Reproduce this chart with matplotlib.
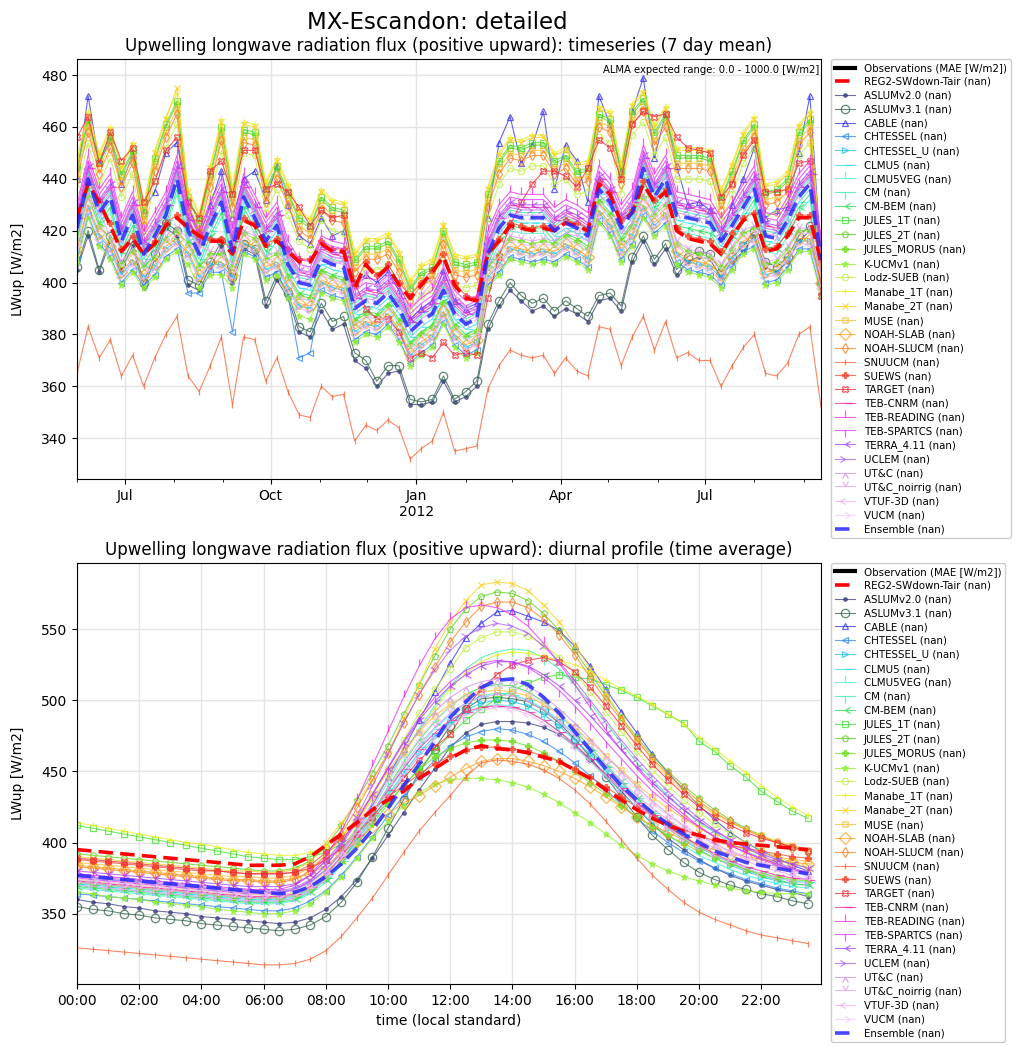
import numpy as np
import pandas as pd
import matplotlib
matplotlib.use('Agg')
import matplotlib.pyplot as plt
import matplotlib.dates as mdates

# weekly (7 day mean) timeseries, 68 points from 2011-06-01
week_start = '2011-06-01'
n_weeks = 68
# diurnal profile, half hourly 00:00 .. 23:30
hours = np.arange(0, 24, 0.5)

# ---- timeseries values [W/m2] ----
ts_reg2 = [425, 438, 431, 422, 412, 417, 411, 415, 422, 425, 421, 418, 416, 416, 411, 424, 422,
           414, 416, 412, 408, 408, 415, 412, 412, 398, 407, 402, 406, 399, 394, 399, 404, 410,
           399, 394, 393, 411, 416, 422, 421, 420, 421, 420, 423, 422, 420, 438, 434, 423, 427,
           438, 431, 435, 420, 417, 416, 415, 411, 418, 424, 426, 412, 413, 418, 425, 425, 408]
ts_ensemble = [421, 440, 427, 433, 416, 426, 411, 418, 426, 440, 420, 411, 422, 431, 412, 433, 425,
               416, 422, 407, 400, 399, 409, 407, 406, 390, 393, 392, 396, 390, 381, 385, 388, 397,
               388, 384, 386, 411, 421, 426, 425, 425, 425, 420, 423, 421, 418, 436, 431, 421, 427,
               444, 433, 440, 426, 425, 424, 423, 416, 422, 429, 436, 418, 417, 424, 433, 438, 409]
ts_aslum20 = [405, 418, 404, 416, 405, 414, 398, 409, 421, 418, 399, 397, 406, 414, 400, 413, 411,
              391, 401, 394, 381, 379, 389, 382, 384, 370, 367, 360, 365, 366, 353, 353, 354, 362,
              354, 356, 360, 382, 391, 397, 393, 389, 391, 387, 390, 388, 385, 393, 394, 389, 408,
              416, 407, 413, 403, 408, 410, 409, 402, 408, 412, 418, 406, 404, 408, 416, 420, 398]
ts_aslum31 = [406, 420, 405, 418, 407, 416, 400, 411, 423, 420, 401, 399, 408, 416, 402, 415, 413,
              393, 403, 396, 383, 381, 392, 385, 387, 373, 370, 362, 368, 368, 355, 354, 355, 364,
              355, 358, 362, 384, 393, 400, 395, 392, 394, 389, 393, 390, 387, 395, 396, 391, 410,
              418, 409, 415, 405, 410, 412, 411, 404, 410, 414, 420, 408, 406, 410, 418, 422, 400]
ts_cable = [440, 472, 446, 455, 438, 449, 428, 435, 450, 454, 430, 418, 430, 443, 425, 440, 443,
            432, 445, 430, 418, 415, 425, 418, 420, 400, 403, 400, 404, 397, 386, 390, 393, 405,
            393, 390, 392, 425, 454, 464, 446, 453, 466, 436, 453, 447, 431, 472, 461, 443, 466,
            479, 448, 465, 445, 430, 431, 428, 418, 430, 440, 452, 425, 428, 429, 450, 472, 410]
ts_chtessel = [409, 426, 415, 410, 400, 405, 399, 403, 410, 413, 396, 396, 404, 404, 381, 412, 410,
               402, 404, 395, 371, 373, 397, 395, 394, 378, 381, 380, 384, 378, 369, 373, 376, 385,
               376, 372, 374, 399, 404, 410, 409, 408, 409, 408, 411, 409, 406, 424, 419, 409, 415,
               426, 419, 423, 408, 405, 404, 403, 399, 406, 412, 414, 400, 401, 406, 413, 413, 396]
ts_chtessel_u = [412, 429, 418, 413, 403, 408, 402, 406, 413, 416, 411, 402, 407, 407, 402, 415, 413,
                 405, 407, 398, 391, 390, 400, 398, 397, 381, 384, 383, 387, 381, 372, 376, 379, 388,
                 379, 375, 377, 402, 407, 413, 412, 411, 412, 411, 414, 412, 409, 427, 422, 412, 418,
                 429, 422, 426, 411, 408, 407, 406, 402, 409, 415, 417, 403, 404, 409, 416, 416, 399]
ts_clmu5 = [419, 438, 425, 431, 414, 424, 409, 416, 424, 438, 418, 409, 420, 429, 410, 431, 423,
            414, 420, 405, 398, 397, 407, 405, 404, 388, 391, 390, 394, 388, 379, 383, 386, 395,
            386, 382, 384, 409, 419, 424, 423, 423, 423, 418, 421, 419, 416, 434, 429, 419, 425,
            442, 431, 438, 424, 423, 422, 421, 414, 420, 427, 434, 416, 415, 422, 431, 436, 407]
ts_clmu5veg = [415, 434, 421, 427, 410, 420, 405, 412, 420, 434, 414, 405, 416, 425, 406, 427, 419,
               410, 416, 401, 394, 393, 403, 401, 400, 384, 387, 386, 390, 384, 375, 379, 382, 391,
               382, 378, 380, 405, 415, 420, 419, 419, 419, 414, 417, 415, 412, 430, 425, 415, 421,
               438, 427, 434, 420, 419, 418, 417, 410, 416, 423, 430, 412, 411, 418, 427, 432, 403]
ts_cm = [423, 442, 429, 435, 418, 428, 413, 420, 428, 442, 422, 413, 424, 433, 414, 435, 427,
         418, 424, 409, 402, 401, 411, 409, 408, 392, 395, 394, 398, 392, 383, 387, 390, 399,
         390, 386, 388, 413, 423, 428, 427, 427, 427, 422, 425, 423, 420, 438, 433, 423, 429,
         446, 435, 442, 428, 427, 426, 425, 418, 424, 431, 438, 420, 419, 426, 435, 440, 411]
ts_cm_bem = [417, 436, 423, 429, 412, 422, 407, 414, 422, 436, 416, 407, 418, 427, 408, 429, 421,
             412, 418, 403, 396, 395, 405, 403, 402, 386, 389, 388, 392, 386, 377, 381, 384, 393,
             384, 380, 382, 407, 417, 422, 421, 421, 421, 416, 419, 417, 414, 432, 427, 417, 423,
             440, 429, 436, 422, 421, 420, 419, 412, 418, 425, 432, 414, 413, 420, 429, 434, 405]
ts_jules1t = [445, 463, 447, 457, 442, 451, 427, 448, 461, 470, 433, 424, 442, 460, 434, 459, 458,
              436, 445, 435, 425, 422, 433, 429, 428, 409, 414, 414, 416, 409, 398, 404, 406, 420,
              408, 407, 408, 434, 447, 453, 452, 454, 454, 447, 449, 443, 444, 465, 463, 443, 466,
              471, 458, 465, 449, 449, 449, 448, 433, 443, 455, 461, 435, 436, 440, 458, 463, 406]
ts_jules2t = [444, 462, 446, 456, 441, 450, 426, 447, 460, 469, 432, 423, 441, 459, 433, 458, 457,
              435, 444, 434, 424, 421, 432, 428, 427, 408, 413, 413, 415, 408, 397, 403, 405, 419,
              407, 406, 407, 433, 446, 452, 451, 453, 453, 446, 448, 442, 443, 464, 462, 442, 465,
              470, 457, 464, 448, 448, 448, 447, 432, 442, 454, 460, 434, 435, 439, 457, 462, 405]
ts_jules_morus = [416, 433, 422, 417, 407, 412, 406, 410, 417, 420, 415, 406, 411, 411, 406, 419, 417,
                  409, 411, 402, 395, 394, 404, 402, 401, 385, 388, 387, 391, 385, 376, 380, 383, 392,
                  383, 379, 381, 406, 411, 417, 416, 415, 416, 415, 418, 416, 413, 431, 426, 416, 422,
                  433, 426, 430, 415, 412, 411, 410, 406, 413, 419, 421, 407, 408, 413, 420, 420, 403]
ts_kucm = [408, 425, 414, 409, 399, 404, 398, 402, 409, 412, 407, 398, 403, 403, 398, 411, 409,
           401, 403, 394, 387, 386, 396, 394, 393, 377, 380, 379, 383, 377, 368, 372, 375, 384,
           375, 371, 373, 398, 403, 409, 408, 407, 408, 407, 410, 408, 405, 423, 418, 408, 414,
           425, 418, 422, 407, 404, 403, 402, 398, 405, 411, 413, 399, 400, 405, 412, 412, 395]
ts_lodz = [436, 454, 438, 448, 433, 442, 418, 439, 452, 461, 424, 415, 433, 451, 425, 450, 449,
           427, 436, 426, 416, 413, 424, 420, 419, 400, 405, 405, 407, 400, 389, 395, 397, 411,
           399, 398, 399, 425, 438, 444, 443, 445, 445, 438, 440, 434, 435, 456, 454, 434, 457,
           462, 449, 456, 440, 440, 440, 439, 424, 434, 446, 452, 426, 427, 431, 449, 454, 397]
ts_manabe1t = [448, 466, 450, 460, 445, 454, 430, 451, 464, 473, 436, 427, 445, 463, 437, 462, 461,
               439, 448, 438, 428, 425, 436, 432, 431, 412, 417, 417, 419, 412, 401, 407, 409, 423,
               411, 410, 411, 437, 450, 456, 455, 457, 457, 450, 452, 446, 447, 468, 466, 446, 469,
               474, 461, 468, 452, 452, 452, 451, 436, 446, 458, 464, 438, 439, 443, 461, 466, 409]
ts_manabe2t = [447, 465, 449, 459, 444, 453, 429, 450, 463, 475, 435, 426, 444, 462, 436, 461, 460,
               438, 447, 437, 427, 424, 435, 431, 430, 411, 416, 416, 418, 411, 400, 406, 408, 422,
               410, 409, 410, 436, 449, 455, 454, 456, 456, 449, 451, 445, 446, 467, 465, 445, 468,
               473, 460, 467, 451, 451, 451, 450, 435, 445, 457, 463, 437, 438, 442, 460, 465, 408]
ts_muse = [442, 460, 444, 454, 439, 448, 424, 445, 458, 467, 430, 421, 439, 457, 431, 456, 455,
           433, 442, 432, 422, 419, 430, 426, 425, 406, 411, 411, 413, 406, 395, 401, 403, 417,
           405, 404, 405, 431, 444, 450, 449, 451, 451, 444, 446, 440, 441, 462, 460, 440, 463,
           468, 455, 462, 446, 446, 446, 445, 430, 440, 452, 458, 432, 433, 437, 455, 460, 403]
ts_noah_slab = [413, 430, 419, 414, 404, 409, 403, 407, 414, 417, 412, 403, 408, 408, 403, 416, 414,
                406, 408, 399, 392, 391, 401, 399, 398, 382, 385, 384, 388, 382, 373, 377, 380, 389,
                380, 376, 378, 403, 408, 414, 413, 412, 413, 412, 415, 413, 410, 428, 423, 413, 419,
                430, 423, 427, 412, 409, 408, 407, 403, 410, 416, 418, 404, 405, 410, 417, 417, 400]
ts_noah_slucm = [440, 458, 442, 452, 437, 446, 422, 443, 456, 465, 428, 419, 437, 455, 429, 454, 453,
                 431, 440, 430, 420, 417, 428, 424, 423, 404, 409, 409, 411, 404, 393, 399, 401, 415,
                 403, 402, 403, 429, 442, 448, 447, 449, 449, 442, 444, 438, 439, 460, 458, 438, 461,
                 466, 453, 460, 444, 444, 444, 443, 428, 438, 450, 456, 430, 431, 435, 453, 458, 401]
ts_snuucm = [365, 383, 371, 378, 364, 372, 360, 371, 380, 387, 364, 358, 368, 379, 353, 379, 378,
             362, 371, 358, 349, 348, 360, 356, 357, 339, 345, 343, 347, 344, 332, 336, 339, 350,
             335, 336, 337, 359, 368, 374, 372, 371, 372, 365, 371, 366, 364, 383, 382, 368, 379,
             387, 374, 385, 371, 373, 370, 370, 360, 368, 375, 380, 365, 364, 369, 380, 383, 352]
ts_suews = [426, 439, 432, 423, 413, 418, 412, 416, 423, 426, 422, 419, 417, 417, 412, 425, 423,
            415, 417, 413, 409, 409, 416, 413, 413, 399, 408, 403, 407, 400, 395, 400, 405, 411,
            400, 395, 394, 412, 417, 423, 422, 421, 422, 421, 424, 423, 421, 439, 435, 424, 428,
            439, 432, 436, 421, 418, 417, 416, 412, 419, 425, 427, 413, 414, 419, 426, 426, 409]
ts_target = [456, 464, 446, 458, 447, 452, 431, 439, 451, 456, 431, 425, 443, 447, 434, 451, 451,
             436, 438, 435, 429, 422, 428, 425, 426, 400, 390, 386, 386, 381, 371, 373, 371, 377,
             372, 373, 372, 394, 410, 422, 431, 438, 443, 443, 441, 437, 444, 455, 452, 440, 461,
             466, 464, 465, 456, 452, 451, 450, 433, 438, 449, 455, 435, 435, 436, 446, 447, 395]
ts_teb_cnrm = [425, 444, 431, 437, 420, 430, 415, 422, 430, 444, 424, 415, 426, 435, 416, 437, 429,
               420, 426, 411, 404, 403, 413, 411, 410, 394, 397, 396, 400, 394, 385, 389, 392, 401,
               392, 388, 390, 415, 425, 430, 429, 429, 429, 424, 427, 425, 422, 440, 435, 425, 431,
               448, 437, 444, 430, 429, 428, 427, 420, 426, 433, 440, 422, 421, 428, 437, 442, 413]
ts_teb_reading = [430, 449, 436, 442, 425, 435, 420, 427, 435, 449, 429, 420, 431, 440, 421, 442, 434,
                  425, 431, 416, 409, 408, 418, 416, 415, 399, 402, 401, 405, 399, 390, 394, 397, 406,
                  397, 393, 395, 420, 430, 435, 434, 434, 434, 429, 432, 430, 427, 445, 440, 430, 436,
                  453, 442, 449, 435, 434, 433, 432, 425, 431, 438, 445, 427, 426, 433, 442, 447, 418]
ts_teb_spartcs = [428, 447, 434, 440, 423, 433, 418, 425, 433, 447, 427, 418, 429, 438, 419, 440, 432,
                  423, 429, 414, 407, 406, 416, 414, 413, 397, 400, 399, 403, 397, 388, 392, 395, 404,
                  395, 391, 393, 418, 428, 433, 432, 432, 432, 427, 430, 428, 425, 443, 438, 428, 434,
                  451, 440, 447, 433, 432, 431, 430, 423, 429, 436, 443, 425, 424, 431, 440, 445, 416]
ts_terra = [426, 445, 432, 438, 421, 431, 416, 423, 431, 445, 425, 416, 427, 436, 417, 438, 430,
            421, 427, 412, 405, 404, 414, 412, 411, 395, 398, 397, 401, 395, 386, 390, 393, 402,
            393, 389, 391, 416, 426, 431, 430, 430, 430, 425, 428, 426, 423, 441, 436, 426, 432,
            449, 438, 445, 431, 430, 429, 428, 421, 427, 434, 441, 423, 422, 429, 438, 443, 414]
ts_uclem = [424, 443, 430, 436, 419, 429, 414, 421, 429, 443, 423, 414, 425, 434, 415, 436, 428,
            419, 425, 410, 403, 402, 412, 410, 409, 393, 396, 395, 399, 393, 384, 388, 391, 400,
            391, 387, 389, 414, 424, 429, 428, 428, 428, 423, 426, 424, 421, 439, 434, 424, 430,
            447, 436, 443, 429, 428, 427, 426, 419, 425, 432, 439, 421, 420, 427, 436, 441, 412]
ts_utc = [422, 441, 428, 434, 417, 427, 412, 419, 427, 441, 421, 412, 423, 432, 413, 434, 426,
          417, 423, 408, 401, 400, 410, 408, 407, 391, 394, 393, 397, 391, 382, 386, 389, 398,
          389, 385, 387, 412, 422, 427, 426, 426, 426, 421, 424, 422, 419, 437, 432, 422, 428,
          445, 434, 441, 427, 426, 425, 424, 417, 423, 430, 437, 419, 418, 425, 434, 439, 410]
ts_utc_noirrig = [421, 434, 427, 418, 408, 413, 407, 411, 418, 421, 417, 414, 412, 412, 407, 420, 418,
                  410, 412, 408, 404, 404, 411, 408, 408, 394, 403, 398, 402, 395, 390, 395, 400, 406,
                  395, 390, 389, 407, 412, 418, 417, 416, 417, 416, 419, 418, 416, 434, 430, 419, 423,
                  434, 427, 431, 416, 413, 412, 411, 407, 414, 420, 422, 408, 409, 414, 421, 421, 404]
ts_vtuf = [411, 428, 417, 412, 402, 407, 401, 405, 412, 415, 410, 401, 406, 406, 401, 414, 412,
           404, 406, 397, 390, 389, 399, 397, 396, 380, 383, 382, 386, 380, 371, 375, 378, 387,
           378, 374, 376, 401, 406, 412, 411, 410, 411, 410, 413, 411, 408, 426, 421, 411, 417,
           428, 421, 425, 410, 407, 406, 405, 401, 408, 414, 416, 402, 403, 408, 415, 415, 398]
ts_vucm = [415, 432, 421, 416, 406, 411, 405, 409, 416, 419, 414, 405, 410, 410, 405, 418, 416,
           408, 410, 401, 394, 393, 403, 401, 400, 384, 387, 386, 390, 384, 375, 379, 382, 391,
           382, 378, 380, 405, 410, 416, 415, 414, 415, 414, 417, 415, 412, 430, 425, 415, 421,
           432, 425, 429, 414, 411, 410, 409, 405, 412, 418, 420, 406, 407, 412, 419, 419, 402]

# ---- diurnal profile values [W/m2] ----
dp_reg2 = [395, 394, 393, 392, 391, 390, 389, 388, 387, 386, 385, 384,
           384, 384, 385, 390, 398, 406, 414, 423, 430, 436, 445, 452,
           459, 465, 468, 466, 465, 463, 460, 457, 451, 445, 437, 430,
           423, 417, 412, 408, 405, 402, 400, 399, 398, 397, 396, 395]
dp_ensemble = [377, 376, 375, 374, 373, 372, 371, 370, 369, 368, 367, 366,
               365, 364, 365, 369, 376, 385, 396, 409, 424, 440, 455, 471,
               488, 499, 509, 514, 515, 511, 502, 491, 478, 465, 452, 440,
               430, 421, 413, 406, 400, 394, 390, 386, 384, 382, 380, 378]
dp_aslum20 = [360, 358, 357, 355, 354, 352, 351, 350, 348, 347, 346, 345,
              344, 343, 344, 347, 353, 362, 374, 389, 405, 421, 437, 452,
              467, 477, 483, 485, 485, 484, 481, 476, 468, 458, 447, 436,
              424, 413, 403, 395, 388, 382, 377, 373, 370, 367, 365, 362]
dp_aslum31 = [355, 353, 352, 350, 349, 347, 346, 345, 343, 342, 341, 340,
              339, 338, 339, 342, 348, 358, 372, 390, 410, 430, 449, 466,
              482, 494, 501, 502, 501, 499, 493, 484, 473, 460, 446, 432,
              418, 405, 395, 386, 379, 374, 370, 367, 364, 362, 359, 357]
dp_cable = [376, 375, 374, 373, 372, 371, 370, 369, 368, 367, 366, 365,
            365, 365, 367, 372, 381, 392, 408, 426, 446, 466, 486, 506,
            526, 544, 554, 562, 563, 559, 555, 549, 538, 524, 508, 492,
            477, 462, 449, 437, 426, 416, 407, 400, 394, 389, 384, 380]
dp_chtessel = [364, 363, 362, 361, 360, 359, 358, 357, 356, 355, 354, 353,
               352, 352, 354, 359, 366, 377, 390, 404, 419, 433, 446, 458,
               468, 474, 478, 480, 479, 476, 471, 464, 456, 447, 437, 427,
               417, 408, 400, 393, 387, 382, 378, 374, 371, 368, 366, 364]
dp_chtessel_u = [370, 369, 368, 367, 366, 365, 364, 363, 362, 361, 360, 359,
                 359, 359, 361, 366, 374, 386, 401, 417, 433, 449, 463, 475,
                 485, 493, 498, 500, 499, 496, 490, 482, 472, 462, 450, 439,
                 428, 418, 410, 402, 395, 389, 384, 380, 376, 373, 371, 370]
dp_clmu5 = [371, 370, 369, 368, 367, 366, 365, 364, 363, 362, 361, 360,
            360, 360, 362, 367, 375, 387, 402, 419, 436, 452, 467, 480,
            490, 498, 503, 505, 504, 500, 494, 486, 476, 465, 453, 442,
            431, 421, 412, 404, 397, 391, 386, 382, 378, 375, 373, 372]
dp_clmu5veg = [368, 367, 366, 365, 364, 363, 362, 361, 360, 359, 358, 357,
               357, 357, 359, 364, 372, 384, 399, 415, 431, 447, 461, 473,
               483, 490, 495, 497, 496, 492, 486, 478, 468, 457, 446, 435,
               424, 414, 405, 398, 391, 386, 381, 377, 374, 371, 369, 368]
dp_cm = [372, 371, 370, 369, 368, 367, 366, 365, 364, 363, 362, 362,
         361, 361, 363, 368, 377, 390, 406, 424, 443, 462, 480, 496,
         510, 522, 530, 534, 536, 535, 530, 522, 511, 498, 484, 470,
         456, 444, 433, 423, 414, 407, 400, 394, 389, 385, 381, 377]
dp_cm_bem = [369, 368, 367, 366, 365, 364, 363, 362, 361, 360, 359, 358,
             358, 358, 360, 365, 374, 387, 403, 421, 439, 456, 472, 485,
             496, 504, 509, 511, 510, 506, 499, 490, 479, 467, 455, 443,
             431, 421, 412, 404, 397, 391, 386, 381, 377, 374, 371, 370]
dp_jules1t = [412, 410, 408, 406, 404, 402, 400, 398, 396, 394, 392, 390,
              389, 388, 388, 390, 393, 399, 407, 417, 428, 440, 452, 464,
              476, 486, 494, 501, 507, 512, 516, 518, 516, 515, 511, 507,
              502, 496, 490, 484, 471, 464, 454, 446, 436, 429, 422, 417]
dp_jules2t = [392, 391, 390, 389, 388, 387, 386, 385, 384, 383, 382, 381,
              380, 380, 382, 387, 397, 412, 430, 449, 468, 490, 511, 531,
              550, 564, 573, 576, 575, 570, 561, 549, 535, 519, 503, 488,
              474, 461, 450, 440, 431, 423, 416, 410, 405, 400, 397, 394]
dp_jules_morus = [372, 371, 370, 369, 368, 367, 366, 365, 364, 363, 362, 361,
                  361, 361, 363, 367, 375, 386, 399, 413, 427, 440, 451, 460,
                  466, 470, 472, 472, 471, 468, 463, 457, 450, 442, 434, 426,
                  418, 411, 405, 399, 394, 389, 385, 381, 378, 376, 374, 373]
dp_kucm = [365, 364, 362, 361, 360, 358, 357, 356, 355, 353, 352, 351,
           350, 350, 352, 357, 365, 376, 389, 403, 415, 426, 435, 441,
           444, 445, 445, 444, 442, 439, 434, 428, 421, 414, 406, 398,
           391, 385, 380, 376, 373, 370, 368, 366, 365, 364, 364, 364]
dp_lodz = [374, 373, 372, 371, 370, 369, 368, 367, 366, 365, 364, 364,
           363, 363, 365, 370, 380, 394, 412, 432, 452, 472, 491, 508,
           522, 537, 544, 548, 548, 545, 539, 530, 519, 506, 492, 478,
           464, 451, 440, 430, 421, 413, 406, 400, 395, 390, 386, 382]
dp_manabe1t = [414, 412, 410, 408, 406, 404, 402, 400, 399, 397, 395, 393,
               392, 391, 391, 393, 397, 405, 416, 430, 446, 462, 478, 494,
               508, 519, 527, 532, 534, 533, 531, 528, 525, 520, 514, 508,
               503, 497, 490, 483, 474, 466, 457, 449, 440, 432, 425, 419]
dp_manabe2t = [390, 389, 388, 387, 386, 385, 384, 383, 382, 381, 380, 380,
               379, 379, 381, 386, 400, 414, 428, 444, 462, 487, 511, 536,
               555, 570, 581, 583, 582, 577, 567, 555, 539, 522, 505, 488,
               472, 458, 446, 436, 427, 420, 414, 409, 405, 401, 398, 395]
dp_muse = [386, 385, 384, 383, 382, 381, 380, 379, 378, 377, 376, 376,
           375, 375, 377, 382, 391, 403, 418, 434, 450, 465, 478, 489,
           497, 503, 506, 507, 506, 503, 497, 490, 481, 471, 461, 451,
           441, 432, 424, 417, 410, 404, 399, 395, 392, 390, 388, 387]
dp_noah_slab = [384, 383, 382, 381, 380, 379, 378, 377, 376, 375, 374, 374,
                373, 373, 375, 378, 384, 392, 401, 411, 420, 428, 433, 440,
                446, 452, 457, 459, 459, 457, 454, 450, 445, 439, 432, 425,
                418, 412, 407, 402, 398, 395, 392, 390, 388, 387, 386, 385]
dp_noah_slucm = [383, 382, 381, 380, 379, 378, 377, 376, 375, 374, 373, 373,
                 372, 372, 374, 380, 391, 406, 424, 444, 463, 484, 504, 523,
                 541, 555, 566, 569, 569, 565, 557, 546, 532, 516, 500, 486,
                 472, 459, 448, 438, 429, 421, 415, 409, 404, 400, 396, 393]
dp_snuucm = [326, 325, 324, 323, 322, 321, 320, 319, 318, 317, 316, 315,
             314, 314, 315, 318, 324, 334, 347, 361, 377, 393, 408, 421,
             433, 446, 456, 458, 457, 455, 451, 445, 437, 427, 415, 402,
             389, 377, 367, 358, 351, 346, 342, 338, 335, 333, 331, 329]
dp_suews = [388, 387, 386, 385, 384, 383, 382, 381, 380, 380, 379, 378,
            378, 378, 379, 384, 393, 403, 413, 423, 432, 440, 448, 455,
            461, 465, 467, 467, 466, 464, 461, 457, 452, 446, 439, 432,
            425, 419, 414, 409, 405, 401, 398, 396, 394, 392, 390, 389]
dp_target = [389, 388, 387, 386, 385, 384, 383, 382, 381, 380, 379, 378,
             378, 378, 379, 382, 388, 396, 406, 418, 431, 445, 458, 467,
             476, 494, 508, 518, 525, 528, 530, 527, 520, 509, 496, 482,
             468, 455, 444, 434, 425, 418, 412, 407, 403, 400, 397, 394]
dp_teb_cnrm = [373, 372, 371, 370, 369, 368, 367, 366, 365, 364, 363, 362,
               362, 362, 364, 369, 378, 390, 405, 421, 437, 452, 466, 477,
               486, 492, 495, 496, 495, 492, 486, 478, 469, 459, 448, 438,
               428, 419, 411, 404, 398, 392, 387, 383, 380, 377, 375, 374]
dp_teb_reading = [378, 377, 376, 375, 374, 373, 372, 371, 370, 369, 368, 367,
                  367, 367, 370, 377, 390, 408, 430, 454, 478, 502, 524, 543,
                  557, 565, 567, 565, 560, 552, 540, 526, 511, 495, 479, 465,
                  452, 440, 429, 420, 411, 404, 398, 393, 388, 384, 381, 379]
dp_teb_spartcs = [375, 374, 373, 372, 371, 370, 369, 368, 367, 366, 365, 364,
                  364, 364, 367, 373, 384, 398, 415, 434, 453, 471, 488, 502,
                  513, 521, 526, 528, 527, 523, 516, 507, 496, 484, 471, 459,
                  447, 436, 427, 418, 411, 404, 398, 393, 389, 385, 381, 378]
dp_terra = [380, 379, 378, 377, 376, 375, 374, 373, 372, 371, 370, 369,
            369, 369, 371, 377, 387, 400, 416, 434, 452, 470, 486, 499,
            510, 518, 524, 527, 527, 524, 518, 510, 500, 489, 477, 465,
            453, 442, 432, 423, 415, 408, 402, 397, 392, 388, 385, 382]
dp_uclem = [377, 376, 375, 374, 373, 372, 371, 370, 369, 368, 367, 366,
            366, 366, 368, 374, 384, 399, 418, 440, 462, 484, 504, 521,
            535, 545, 551, 554, 552, 547, 538, 527, 514, 500, 486, 472,
            459, 447, 436, 426, 417, 409, 402, 396, 391, 386, 382, 379]
dp_utc = [376, 375, 374, 373, 372, 371, 370, 369, 368, 367, 366, 365,
          365, 365, 367, 372, 381, 394, 410, 428, 446, 463, 479, 492,
          502, 509, 513, 515, 514, 510, 503, 494, 484, 473, 461, 450,
          439, 429, 420, 412, 405, 399, 394, 390, 386, 383, 380, 378]
dp_utc_noirrig = [372, 371, 370, 369, 368, 367, 366, 365, 364, 363, 362, 361,
                  361, 361, 363, 368, 377, 389, 404, 421, 438, 454, 469, 481,
                  491, 498, 502, 504, 503, 499, 493, 485, 475, 465, 454, 443,
                  433, 424, 416, 409, 402, 396, 391, 387, 383, 380, 377, 374]
dp_vtuf = [370, 369, 368, 367, 366, 365, 364, 363, 362, 361, 360, 359,
           359, 359, 361, 366, 374, 386, 400, 416, 432, 447, 461, 473,
           482, 489, 493, 495, 494, 490, 484, 476, 467, 457, 447, 437,
           427, 418, 410, 403, 397, 391, 386, 382, 378, 375, 373, 371]
dp_vucm = [374, 373, 372, 371, 370, 369, 368, 367, 366, 365, 364, 363,
           363, 363, 365, 370, 379, 392, 408, 425, 442, 458, 473, 486,
           496, 503, 508, 510, 509, 505, 498, 490, 480, 469, 458, 447,
           437, 427, 419, 411, 404, 398, 393, 389, 385, 382, 379, 376]

# name, colour, marker, filled marker, timeseries, diurnal
models = [
    ('ASLUMv2.0', '#3b3f80', '.', True, ts_aslum20, dp_aslum20),
    ('ASLUMv3.1', '#2f6248', 'o', False, ts_aslum31, dp_aslum31),
    ('CABLE', '#3030f0', '^', False, ts_cable, dp_cable),
    ('CHTESSEL', '#2f86f0', '<', False, ts_chtessel, dp_chtessel),
    ('CHTESSEL_U', '#20c0f0', '>', False, ts_chtessel_u, dp_chtessel_u),
    ('CLMU5', '#30e0f0', 1, False, ts_clmu5, dp_clmu5),
    ('CLMU5VEG', '#40f0d0', 2, False, ts_clmu5veg, dp_clmu5veg),
    ('CM', '#30f0a0', 3, False, ts_cm, dp_cm),
    ('CM-BEM', '#20e050', 4, False, ts_cm_bem, dp_cm_bem),
    ('JULES_1T', '#40e030', 's', False, ts_jules1t, dp_jules1t),
    ('JULES_2T', '#60d020', 'p', False, ts_jules2t, dp_jules2t),
    ('JULES_MORUS', '#70e020', 'P', True, ts_jules_morus, dp_jules_morus),
    ('K-UCMv1', '#90f030', '*', True, ts_kucm, dp_kucm),
    ('Lodz-SUEB', '#c0f040', 'H', False, ts_lodz, dp_lodz),
    ('Manabe_1T', '#e8f020', '+', False, ts_manabe1t, dp_manabe1t),
    ('Manabe_2T', '#f8d020', 'x', False, ts_manabe2t, dp_manabe2t),
    ('MUSE', '#f8c030', 'X', False, ts_muse, dp_muse),
    ('NOAH-SLAB', '#f8a020', 'D', False, ts_noah_slab, dp_noah_slab),
    ('NOAH-SLUCM', '#f88020', 'd', False, ts_noah_slucm, dp_noah_slucm),
    ('SNUUCM', '#f86030', '|', False, ts_snuucm, dp_snuucm),
    ('SUEWS', '#f84830', 'P', True, ts_suews, dp_suews),
    ('TARGET', '#f02838', 'X', False, ts_target, dp_target),
    ('TEB-CNRM', '#f828a0', 1, False, ts_teb_cnrm, dp_teb_cnrm),
    ('TEB-READING', '#f028e8', 2, False, ts_teb_reading, dp_teb_reading),
    ('TEB-SPARTCS', '#e030f8', 3, False, ts_teb_spartcs, dp_teb_spartcs),
    ('TERRA_4.11', '#a840f8', 4, False, ts_terra, dp_terra),
    ('UCLEM', '#b060f0', 5, False, ts_uclem, dp_uclem),
    ('UT&C', '#c890f0', 6, False, ts_utc, dp_utc),
    ('UT&C_noirrig', '#e0a0f0', 7, False, ts_utc_noirrig, dp_utc_noirrig),
    ('VTUF-3D', '#f0b0f0', 8, False, ts_vtuf, dp_vtuf),
    ('VUCM', '#f8c8f8', 9, False, ts_vucm, dp_vucm),
]

dates = pd.date_range(week_start, periods=n_weeks, freq='7D')


def draw(ax, x, which, obs_label):
    obs, = ax.plot([], [], color='black', lw=3, label=obs_label)
    handles = [obs, None]
    for name, color, marker, filled, ts, dp in models:
        y = ts if which == 'ts' else dp
        ms = 6 if name in ('ASLUMv3.1', 'NOAH-SLAB') else 5
        line, = ax.plot(x, y, color=color, lw=0.8, alpha=0.75, marker=marker, ms=ms,
                        mew=0.9, fillstyle='full' if filled else 'none',
                        label=name + ' (nan)')
        handles.append(line)
    reg2, = ax.plot(x, ts_reg2 if which == 'ts' else dp_reg2, color='red', lw=2.6,
                    ls=(0, (4, 2)), label='REG2-SWdown-Tair (nan)')
    ens, = ax.plot(x, ts_ensemble if which == 'ts' else dp_ensemble, color='#2828ff',
                   lw=2.6, alpha=0.85, ls=(0, (4, 2)), label='Ensemble (nan)')
    handles[1] = reg2
    handles.append(ens)
    ax.legend(handles=handles, loc='upper left', bbox_to_anchor=(1.013, 1.0),
              borderaxespad=0, fontsize=7.4, labelspacing=0.365, handlelength=2.0,
              framealpha=1)
    ax.grid(True, color='#e4e4e4', lw=1)
    ax.set_axisbelow(True)
    ax.set_ylabel('LWup [W/m2]')
    ax.yaxis.set_label_coords(-0.070, 0.5)


fig = plt.figure(figsize=(10.2, 10.59), dpi=100)
ax1 = fig.add_axes([0.0755, 0.5477, 0.7294, 0.3966])
ax2 = fig.add_axes([0.0755, 0.0708, 0.7294, 0.3976])

fig.text(0.429, 0.979, 'MX-Escandon: detailed', ha='center', va='center', fontsize=16.5)

# top: timeseries
draw(ax1, dates, 'ts', 'Observations (MAE [W/m2])')
ax1.set_title('Upwelling longwave radiation flux (positive upward): timeseries (7 day mean)',
              fontsize=12)
ax1.set_xlim(dates[0], dates[-1])
ax1.set_ylim(324.3, 486.2)
major = pd.to_datetime(['2011-07-01', '2011-10-01', '2012-01-01', '2012-04-01', '2012-07-01'])
ax1.set_xticks(mdates.date2num(major))
ax1.set_xticklabels(['Jul', 'Oct', 'Jan\n2012', 'Apr', 'Jul'])
ax1.xaxis.set_minor_locator(mdates.MonthLocator())
ax1.tick_params(axis='x', which='minor', length=2)
ax1.text(0.997, 0.985, 'ALMA expected range: 0.0 - 1000.0 [W/m2]', transform=ax1.transAxes,
         ha='right', va='top', fontsize=7.2)

# bottom: diurnal profile
draw(ax2, hours, 'dp', 'Observation (MAE [W/m2])')
ax2.set_title('Upwelling longwave radiation flux (positive upward): diurnal profile (time average)',
              fontsize=12)
ax2.set_xlim(0, 23.92)
ax2.set_xticks(np.arange(0, 24, 2))
ax2.set_xticklabels(['%02d:00' % h for h in range(0, 24, 2)])
ax2.set_xlabel('time (local standard)')

fig.savefig('out.png', dpi=100)
